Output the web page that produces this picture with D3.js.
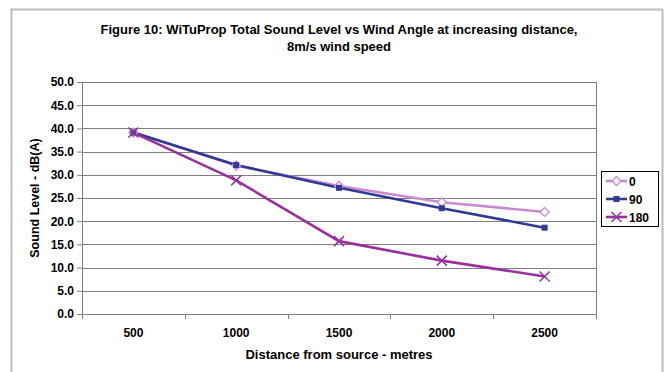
<!DOCTYPE html>
<meta charset="utf-8">
<script src="https://d3js.org/d3.v7.min.js"></script>
<style>
  body { margin: 0; background: #fff; }
  text { font-family: "Liberation Sans", Arial, sans-serif; font-weight: bold; }
</style>
<div id="chart"></div>
<script>
// data
var distances = ["500", "1000", "1500", "2000", "2500"];
var angle0   = [39.1, 32.0, 27.6, 24.1, 22.0];
var angle90  = [39.1, 32.1, 27.2, 22.8, 18.6];
var angle180 = [39.1, 28.8, 15.7, 11.5, 8.1];
var seriesNames = ["0", "90", "180"];
var yTicks = [0, 5, 10, 15, 20, 25, 30, 35, 40, 45, 50];

var W = 664, H = 372;
var margin = {top: 82, right: 68, bottom: 58, left: 82},
    width = W - margin.left - margin.right,
    height = H - margin.top - margin.bottom;

var svg = d3.select("#chart").append("svg")
    .attr("width", W)
    .attr("height", H);

// outer frame (bottom edge runs off the picture)
svg.append("path")
    .attr("d", "M11.5," + H + "V9.5H662.5V" + H)
    .attr("fill", "none")
    .attr("stroke", "#bcbcbc")
    .attr("stroke-width", 2);

// title
var title = svg.append("text")
    .attr("x", margin.left + width / 2)
    .attr("text-anchor", "middle")
    .style("font-size", "13px");
title.append("tspan").attr("x", margin.left + width / 2).attr("y", 34)
    .text("Figure 10: WiTuProp Total Sound Level vs Wind Angle at increasing distance,");
title.append("tspan").attr("x", margin.left + width / 2).attr("y", 51)
    .text("8m/s wind speed");

var g = svg.append("g")
    .attr("transform", "translate(" + margin.left + "," + margin.top + ")");

var x = d3.scaleBand().domain(distances).range([0, width]);
var y = d3.scaleLinear().domain([0, 50]).range([height, 0]);

// gridlines
g.selectAll(".grid")
    .data(yTicks)
    .enter().append("line")
    .attr("x1", 0).attr("x2", width)
    .attr("y1", function(d) { return Math.round(y(d)) + 0.5; })
    .attr("y2", function(d) { return Math.round(y(d)) + 0.5; })
    .attr("stroke", "#7f7f7f")
    .attr("stroke-width", 1);

// right border of plot area
g.append("line")
    .attr("x1", width + 0.5).attr("x2", width + 0.5)
    .attr("y1", 0).attr("y2", height)
    .attr("stroke", "#7f7f7f");

// y axis
var yAxis = g.append("g")
    .call(d3.axisLeft(y).tickValues(yTicks).tickSize(5).tickPadding(3)
        .tickFormat(d3.format(".1f")));
yAxis.selectAll("text").style("font-size", "12px").attr("fill", "#000");
yAxis.selectAll("line, path").attr("stroke", "#7f7f7f");

// x axis - ticks sit between categories
var xAxis = g.append("g")
    .attr("transform", "translate(0," + height + ")");
xAxis.append("line")
    .attr("x1", 0).attr("x2", width).attr("y1", 0.5).attr("y2", 0.5)
    .attr("stroke", "#7f7f7f");
xAxis.selectAll(".tk")
    .data(distances.concat([""]))
    .enter().append("line")
    .attr("x1", function(d, i) { return Math.round(i * x.step()) + 0.5; })
    .attr("x2", function(d, i) { return Math.round(i * x.step()) + 0.5; })
    .attr("y1", 0).attr("y2", 5)
    .attr("stroke", "#7f7f7f");
xAxis.selectAll(".lbl")
    .data(distances)
    .enter().append("text")
    .attr("x", function(d) { return x(d) + x.bandwidth() / 2; })
    .attr("y", 23)
    .attr("text-anchor", "middle")
    .style("font-size", "12px")
    .text(function(d) { return d; });

// axis titles
svg.append("text")
    .attr("x", margin.left + width / 2)
    .attr("y", 359)
    .attr("text-anchor", "middle")
    .style("font-size", "13px")
    .text("Distance from source - metres");

svg.append("text")
    .attr("transform", "translate(39," + (margin.top + height / 2) + ") rotate(-90)")
    .attr("text-anchor", "middle")
    .style("font-size", "12.5px")
    .text("Sound Level - dB(A)");

// series
var series = [
    {name: seriesNames[0], values: angle0,   color: "#c98bd0", marker: "diamond"},
    {name: seriesNames[1], values: angle90,  color: "#2e3a94", marker: "square"},
    {name: seriesNames[2], values: angle180, color: "#98319e", marker: "cross"}
];

function cx(i) { return x(distances[i]) + x.bandwidth() / 2; }

var line = d3.line()
    .x(function(d, i) { return cx(i); })
    .y(function(d) { return y(d); });

function drawMarker(sel, type, color, px, py) {
    if (type === "diamond") {
        sel.append("path")
            .attr("d", "M" + px + "," + (py - 4.5) + "L" + (px + 4.5) + "," + py +
                "L" + px + "," + (py + 4.5) + "L" + (px - 4.5) + "," + py + "Z")
            .attr("fill", "#fff").attr("stroke", color).attr("stroke-width", 1.3);
    } else if (type === "square") {
        sel.append("rect")
            .attr("x", px - 3).attr("y", py - 3)
            .attr("width", 6).attr("height", 6)
            .attr("fill", color);
    } else {
        sel.append("path")
            .attr("d", "M" + (px - 5) + "," + (py - 5) + "L" + (px + 5) + "," + (py + 5) +
                "M" + (px - 5) + "," + (py + 5) + "L" + (px + 5) + "," + (py - 5))
            .attr("stroke", color).attr("stroke-width", 1.5).attr("fill", "none");
    }
}

series.forEach(function(s) {
    g.append("path")
        .datum(s.values)
        .attr("d", line)
        .attr("fill", "none")
        .attr("stroke", s.color)
        .attr("stroke-width", 2.6);
});
series.forEach(function(s) {
    var mg = g.append("g");
    s.values.forEach(function(v, i) {
        drawMarker(mg, s.marker, s.color, cx(i), y(v));
    });
});

// legend
var lg = svg.append("g").attr("transform", "translate(601,171)");
lg.append("rect")
    .attr("x", 0.5).attr("y", 0.5)
    .attr("width", 57).attr("height", 55)
    .attr("fill", "#fff").attr("stroke", "#000").attr("stroke-width", 1);
series.forEach(function(s, i) {
    var yy = 10 + i * 18;
    lg.append("line")
        .attr("x1", 5).attr("x2", 26).attr("y1", yy).attr("y2", yy)
        .attr("stroke", s.color).attr("stroke-width", 2.6);
    drawMarker(lg, s.marker, s.color, 15.5, yy);
    lg.append("text")
        .attr("x", 28).attr("y", yy + 4.5)
        .style("font-size", "12px")
        .text(s.name);
});
</script>
